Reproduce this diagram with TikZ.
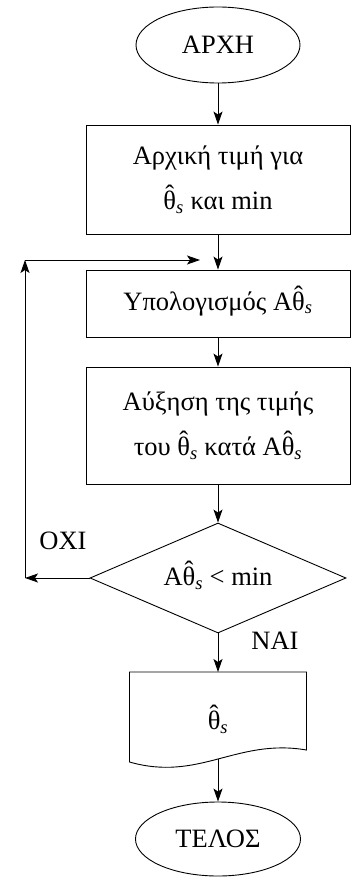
\documentclass[tikz,border=0pt]{standalone}
\usepackage{fontspec}
\setmainfont{Liberation Serif}
\usetikzlibrary{arrows.meta,shapes.geometric}
\newcommand{\ths}{\mbox{\ooalign{θ\cr\hidewidth\raisebox{0.22em}{ˆ}\hidewidth\cr}\textsubscript{\itshape s}}}
\begin{document}
\begin{tikzpicture}[x=1pt,y=-1pt,
  every node/.style={font=\fontsize{26.5}{45}\selectfont},
  line width=0.9pt,
  box/.style={draw, rectangle, minimum width=264pt, align=center, inner sep=0pt},
  term/.style={draw, ellipse, inner sep=0pt},
  arr/.style={-{Stealth[length=13pt,width=9pt,inset=3pt]}}]
\useasboundingbox (0,0) rectangle (354,877);
\node[term, minimum width=164pt, minimum height=76pt] (start) at (218,45) {ΑΡΧΗ};
\node[box, minimum height=109pt] (init) at (218,179.5) {Αρχική τιμή για\\ \ths\ και min};
\node[box, minimum height=67pt] (calc) at (218,303.5) {Υπολογισμός Α\ths};
\node[box, minimum height=117pt] (incr) at (218,425.5) {Αύξηση της τιμής\\ του \ths\ κατά Α\ths};
\node[draw, diamond, aspect=2.3, minimum width=256pt, minimum height=110pt, inner sep=0pt] (test) at (218,578) {Α\ths\ < min};
\node (outtext) at (218,722) {\ths};
\coordinate (dtop) at (218,672);
\coordinate (dbot) at (218,759);
\draw (129.5,672) -- (306.5,672) -- (306.5,750) .. controls (236.5,738) and (199.5,782) .. (129.5,762) -- cycle;
\node[term, minimum width=165pt, minimum height=74pt] (stop) at (218,839) {ΤΕΛΟΣ};
\node (no) at (63,541) {ΟΧΙ};
\node (yes) at (275,641) {ΝΑΙ};
\coordinate (lc) at (25,578);
\coordinate (lt) at (25,260);
\coordinate (lr) at (200,260);
\draw[arr] (start.south) -- (init.north);
\draw[arr] (init.south) -- (calc.north);
\draw[arr] (calc.south) -- (incr.north);
\draw[arr] (incr.south) -- (test.north);
\draw[arr] (test.south) -- (dtop);
\draw[arr] (dbot) -- (stop.north);
\draw[arr] (test.west) -- (lc);
\draw[arr] (lc) -- (lt);
\draw[arr] (lt) -- (lr);
\end{tikzpicture}
\end{document}
